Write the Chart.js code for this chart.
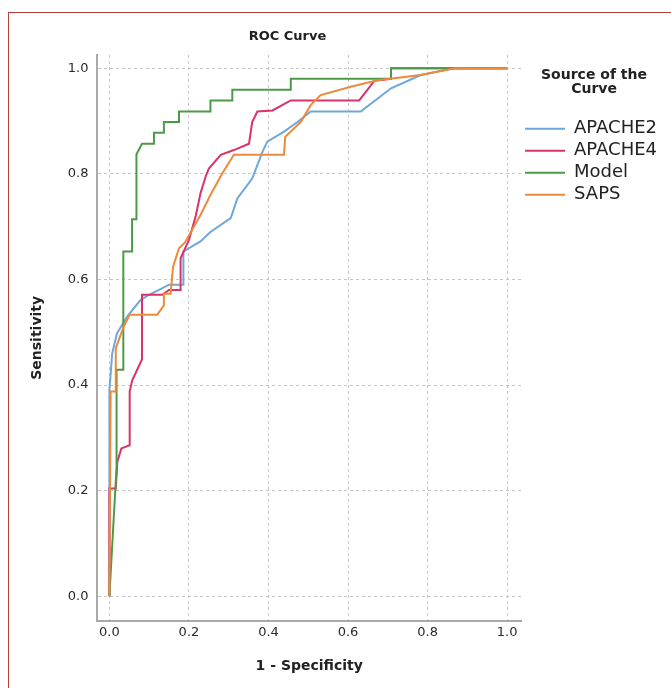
<!DOCTYPE html>
<html>
<head>
<meta charset="utf-8">
<script src="https://cdn.jsdelivr.net/npm/chart.js@4.4.1/dist/chart.umd.min.js"></script>
<style>
  html, body { margin: 0; padding: 0; background: #fff; overflow: hidden; width: 671px; height: 688px; }
  #wrap { position: absolute; left: 0; top: 0; width: 700px; height: 688px; }
  #frame { position: absolute; left: 8px; top: 12px; width: 720px; height: 720px; border: 1px solid #b8403a; pointer-events: none; }
</style>
</head>
<body>
<div id="wrap"><canvas id="rocChart"></canvas></div>
<div id="frame"></div>
<script>
// ROC points (1 - specificity, sensitivity)
var chartTitle = 'ROC Curve';
var seriesNames = ['APACHE2', 'APACHE4', 'Model', 'SAPS'];
var seriesColors = ['#6ea6de', '#d9336b', '#4c9a47', '#ec8a3a'];

var apache2X = [0, 0, 0.007, 0.019, 0.045, 0.078, 0.1, 0.15, 0.186, 0.186, 0.229, 0.254, 0.305, 0.322, 0.359, 0.385, 0.397, 0.439, 0.473, 0.506, 0.632, 0.708, 0.783, 0.867, 1];
var apache2Y = [0, 0.39, 0.46, 0.498, 0.53, 0.561, 0.571, 0.59, 0.59, 0.653, 0.672, 0.69, 0.716, 0.754, 0.791, 0.842, 0.861, 0.88, 0.898, 0.918, 0.918, 0.962, 0.987, 1, 1];

var apache4X = [0, 0, 0.016, 0.02, 0.03, 0.051, 0.051, 0.057, 0.082, 0.082, 0.133, 0.15, 0.179, 0.179, 0.2, 0.217, 0.229, 0.242, 0.25, 0.28, 0.313, 0.351, 0.359, 0.372, 0.41, 0.456, 0.628, 0.666, 0.708, 0.708, 1];
var apache4Y = [0, 0.204, 0.204, 0.255, 0.28, 0.286, 0.388, 0.408, 0.449, 0.571, 0.571, 0.58, 0.58, 0.64, 0.675, 0.72, 0.763, 0.795, 0.81, 0.836, 0.845, 0.857, 0.898, 0.918, 0.92, 0.939, 0.939, 0.976, 0.98, 1, 1];

var modelX = [0, 0.018, 0.018, 0.035, 0.035, 0.057, 0.057, 0.068, 0.068, 0.082, 0.112, 0.112, 0.137, 0.137, 0.175, 0.175, 0.254, 0.254, 0.309, 0.309, 0.456, 0.456, 0.708, 0.708, 1];
var modelY = [0, 0.245, 0.429, 0.429, 0.653, 0.653, 0.714, 0.714, 0.837, 0.857, 0.857, 0.878, 0.878, 0.898, 0.898, 0.918, 0.918, 0.939, 0.939, 0.959, 0.959, 0.98, 0.98, 1, 1];

var sapsX = [0, 0.003, 0.016, 0.016, 0.036, 0.051, 0.12, 0.137, 0.137, 0.154, 0.16, 0.175, 0.19, 0.229, 0.254, 0.284, 0.313, 0.439, 0.442, 0.481, 0.506, 0.531, 0.607, 0.674, 0.783, 0.867, 1];
var sapsY = [0, 0.388, 0.388, 0.47, 0.511, 0.533, 0.533, 0.551, 0.573, 0.573, 0.624, 0.659, 0.67, 0.722, 0.76, 0.801, 0.836, 0.836, 0.87, 0.898, 0.93, 0.949, 0.965, 0.977, 0.987, 1, 1];

var xTicks = [0, 0.2, 0.4, 0.6, 0.8, 1.0];
var yTicks = [0, 0.2, 0.4, 0.6, 0.8, 1.0];

function toPoints(xs, ys) {
    return xs.map(function(x, i) { return { x: x, y: ys[i] }; });
}

var allX = [apache2X, apache4X, modelX, sapsX];
var allY = [apache2Y, apache4Y, modelY, sapsY];

// later series are painted on top (SAPS last), as in the original
var datasets = seriesNames.map(function(name, i) {
    return {
        label: name,
        data: toPoints(allX[i], allY[i]),
        borderColor: seriesColors[i],
        backgroundColor: seriesColors[i],
        borderWidth: 2,
        pointRadius: 0,
        tension: 0,
        fill: false,
        order: seriesNames.length - i
    };
});

// title sits a bit left of the plot centre, like the original
var titlePlugin = {
    id: 'rocTitle',
    afterDraw: function(chart) {
        var c = chart.ctx;
        c.save();
        c.font = 'bold 13px "DejaVu Sans"';
        c.fillStyle = '#222';
        c.textAlign = 'center';
        c.textBaseline = 'middle';
        c.fillText(chartTitle, chart.chartArea.left + 190, 37);
        c.restore();
    }
};

var tickFont = { family: 'DejaVu Sans', size: 13 };
var boldFont = { family: 'DejaVu Sans', size: 14, weight: 'bold' };

var ctx = document.getElementById('rocChart').getContext('2d');
var rocChart = new Chart(ctx, {
    type: 'line',
    data: { datasets: datasets },
    plugins: [titlePlugin],
    options: {
        responsive: true,
        maintainAspectRatio: false,
        animation: false,
        layout: { padding: { left: 20, right: 33, top: 55, bottom: 9 } },
        plugins: {
            legend: {
                position: 'right',
                align: 'start',
                fullSize: false,
                title: {
                    display: true,
                    text: ['Source of the', 'Curve'],
                    color: '#222',
                    font: { family: 'DejaVu Sans', size: 14, weight: 'bold', lineHeight: 1.05 },
                    padding: { top: 13, bottom: 33 }
                },
                labels: {
                    usePointStyle: true,
                    pointStyle: 'line',
                    pointStyleWidth: 40,
                    padding: 4,
                    color: '#222',
                    font: { family: 'DejaVu Sans', size: 18 },
                    sort: function(a, b) { return a.datasetIndex - b.datasetIndex; }
                }
            },
            tooltip: { enabled: false }
        },
        scales: {
            x: {
                type: 'linear',
                min: -0.03,
                max: 1.035,
                afterBuildTicks: function(axis) {
                    axis.ticks = xTicks.map(function(v) { return { value: v }; });
                },
                ticks: {
                    color: '#2a2a2a',
                    font: tickFont,
                    padding: 4,
                    maxRotation: 0,
                    callback: function(v) { return Number(v).toFixed(1); }
                },
                grid: { color: '#c6c6c6', lineWidth: 1, drawTicks: false },
                border: { display: true, color: '#a9a9a9', width: 2, dash: [3, 3] },
                title: {
                    display: true,
                    text: '1 - Specificity',
                    color: '#222',
                    font: boldFont,
                    padding: { top: 14, bottom: 4 }
                }
            },
            y: {
                min: -0.046,
                max: 1.025,
                afterBuildTicks: function(axis) {
                    axis.ticks = yTicks.map(function(v) { return { value: v }; });
                },
                ticks: {
                    color: '#2a2a2a',
                    font: tickFont,
                    padding: 9,
                    callback: function(v) { return Number(v).toFixed(1); }
                },
                grid: { color: '#c6c6c6', lineWidth: 1, drawTicks: false },
                border: { display: true, color: '#a9a9a9', width: 2, dash: [3, 3] },
                title: {
                    display: true,
                    text: 'Sensitivity',
                    color: '#222',
                    font: boldFont,
                    padding: { top: 9, bottom: 13 }
                }
            }
        }
    }
});
</script>
</body>
</html>
